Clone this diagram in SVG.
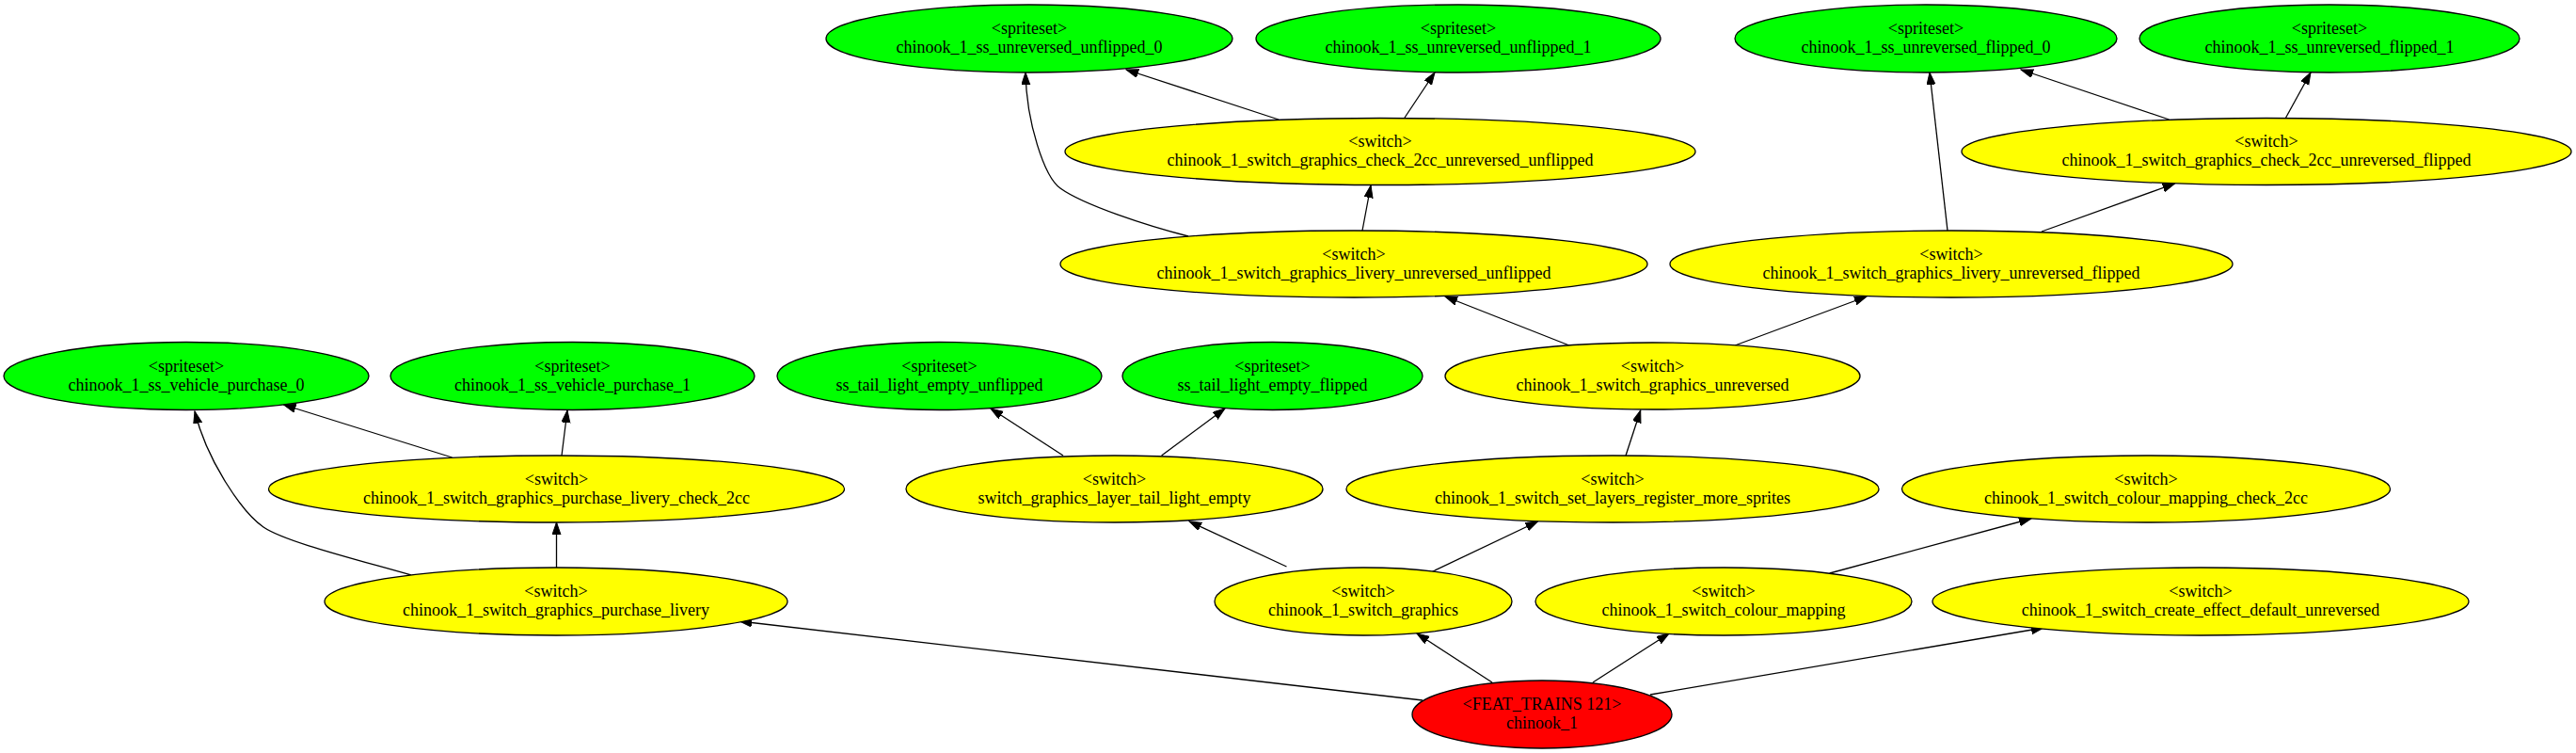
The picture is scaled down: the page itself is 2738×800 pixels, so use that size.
<svg xmlns="http://www.w3.org/2000/svg" width="2738" height="800" viewBox="0 0 2738 800">
<defs>
<style>
.n ellipse{stroke:#000;stroke-width:1.3}
.g ellipse{fill:#00ff00}
.y ellipse{fill:#ffff00}
.r ellipse{fill:#ff0000}
text{font-family:"Liberation Serif","Times New Roman",serif;font-size:18px;text-anchor:middle;fill:#000}
#edges path{fill:none;stroke:#000;stroke-width:1.3;marker-end:url(#arr)}
</style>
<marker id="arr" markerUnits="userSpaceOnUse" markerWidth="14" markerHeight="10" refX="13" refY="4.5" orient="auto" viewBox="0 0 14 10">
<path d="M0,0 L13,4.5 L0,9 z" fill="#000" stroke="#000" stroke-width="1"/>
</marker>
</defs>
<rect width="2738" height="800" fill="#fff"/>
<g id="edges">
<path d="M1512,744 L786,660"/>
<path d="M1586,725 L1506,673"/>
<path d="M1693,725 L1774,673"/>
<path d="M1754,738 L2172,667"/>
<path d="M437,611 C370,592 302,575 280,560 C258,545 220,490 207,437"/>
<path d="M591.5,603 L591.5,555"/>
<path d="M480.5,486 L301.5,430"/>
<path d="M597,484 L603,436"/>
<path d="M1367.5,602 L1264,554"/>
<path d="M1521,608 L1634.5,554"/>
<path d="M1130,484 L1053,434"/>
<path d="M1234.6,484 L1302,434"/>
<path d="M1728,484 L1743.7,436"/>
<path d="M1944.7,609 L2159,551"/>
<path d="M1668,367 L1536,315"/>
<path d="M1844,367 L1984,315"/>
<path d="M1263,251 C1220,240 1152,218 1127,200 C1110,188 1091,130 1090,77"/>
<path d="M1448,245 L1457,197"/>
<path d="M1359,127 L1197,74"/>
<path d="M1493,125 L1525,77"/>
<path d="M2070,245 L2051,77"/>
<path d="M2170,246 L2311.6,195"/>
<path d="M2305.5,127 L2148,74"/>
<path d="M2429.6,125 L2456,77"/>
</g>
<g id="ss_uu0" class="n g"><ellipse cx="1094" cy="41" rx="216" ry="36"/><text x="1094" y="36">&lt;spriteset&gt;</text><text x="1094" y="56">chinook_1_ss_unreversed_unflipped_0</text></g>
<g id="ss_uu1" class="n g"><ellipse cx="1550" cy="41" rx="215" ry="36"/><text x="1550" y="36">&lt;spriteset&gt;</text><text x="1550" y="56">chinook_1_ss_unreversed_unflipped_1</text></g>
<g id="ss_uf0" class="n g"><ellipse cx="2047" cy="41" rx="203" ry="36"/><text x="2047" y="36">&lt;spriteset&gt;</text><text x="2047" y="56">chinook_1_ss_unreversed_flipped_0</text></g>
<g id="ss_uf1" class="n g"><ellipse cx="2476" cy="41" rx="202" ry="36"/><text x="2476" y="36">&lt;spriteset&gt;</text><text x="2476" y="56">chinook_1_ss_unreversed_flipped_1</text></g>
<g id="chk_uu" class="n y"><ellipse cx="1467" cy="161" rx="335" ry="35.5"/><text x="1467" y="156">&lt;switch&gt;</text><text x="1467" y="176">chinook_1_switch_graphics_check_2cc_unreversed_unflipped</text></g>
<g id="chk_uf" class="n y"><ellipse cx="2409" cy="161" rx="324" ry="35.5"/><text x="2409" y="156">&lt;switch&gt;</text><text x="2409" y="176">chinook_1_switch_graphics_check_2cc_unreversed_flipped</text></g>
<g id="liv_uu" class="n y"><ellipse cx="1439" cy="280.5" rx="312" ry="35.5"/><text x="1439" y="275.5">&lt;switch&gt;</text><text x="1439" y="295.5">chinook_1_switch_graphics_livery_unreversed_unflipped</text></g>
<g id="liv_uf" class="n y"><ellipse cx="2074" cy="280.5" rx="299" ry="35.5"/><text x="2074" y="275.5">&lt;switch&gt;</text><text x="2074" y="295.5">chinook_1_switch_graphics_livery_unreversed_flipped</text></g>
<g id="vp0" class="n g"><ellipse cx="198" cy="399.5" rx="194" ry="36"/><text x="198" y="394.5">&lt;spriteset&gt;</text><text x="198" y="414.5">chinook_1_ss_vehicle_purchase_0</text></g>
<g id="vp1" class="n g"><ellipse cx="608.5" cy="399.5" rx="193.5" ry="36"/><text x="608.5" y="394.5">&lt;spriteset&gt;</text><text x="608.5" y="414.5">chinook_1_ss_vehicle_purchase_1</text></g>
<g id="tl_u" class="n g"><ellipse cx="998.5" cy="399.5" rx="172.5" ry="36"/><text x="998.5" y="394.5">&lt;spriteset&gt;</text><text x="998.5" y="414.5">ss_tail_light_empty_unflipped</text></g>
<g id="tl_f" class="n g"><ellipse cx="1352.5" cy="399.5" rx="159.5" ry="36"/><text x="1352.5" y="394.5">&lt;spriteset&gt;</text><text x="1352.5" y="414.5">ss_tail_light_empty_flipped</text></g>
<g id="gfx_unrev" class="n y"><ellipse cx="1756.5" cy="399.5" rx="220.5" ry="35.5"/><text x="1756.5" y="394.5">&lt;switch&gt;</text><text x="1756.5" y="414.5">chinook_1_switch_graphics_unreversed</text></g>
<g id="pl_chk" class="n y"><ellipse cx="591.5" cy="519.5" rx="306" ry="35.5"/><text x="591.5" y="514.5">&lt;switch&gt;</text><text x="591.5" y="534.5">chinook_1_switch_graphics_purchase_livery_check_2cc</text></g>
<g id="tle" class="n y"><ellipse cx="1184.5" cy="519.5" rx="221.5" ry="35.5"/><text x="1184.5" y="514.5">&lt;switch&gt;</text><text x="1184.5" y="534.5">switch_graphics_layer_tail_light_empty</text></g>
<g id="setl" class="n y"><ellipse cx="1714" cy="519.5" rx="283" ry="35.5"/><text x="1714" y="514.5">&lt;switch&gt;</text><text x="1714" y="534.5">chinook_1_switch_set_layers_register_more_sprites</text></g>
<g id="cm_chk" class="n y"><ellipse cx="2281" cy="519.5" rx="259.5" ry="35.5"/><text x="2281" y="514.5">&lt;switch&gt;</text><text x="2281" y="534.5">chinook_1_switch_colour_mapping_check_2cc</text></g>
<g id="pl" class="n y"><ellipse cx="591" cy="639" rx="246" ry="36"/><text x="591" y="634">&lt;switch&gt;</text><text x="591" y="654">chinook_1_switch_graphics_purchase_livery</text></g>
<g id="gfx" class="n y"><ellipse cx="1449" cy="639" rx="158" ry="36"/><text x="1449" y="634">&lt;switch&gt;</text><text x="1449" y="654">chinook_1_switch_graphics</text></g>
<g id="cm" class="n y"><ellipse cx="1832" cy="639" rx="200" ry="36"/><text x="1832" y="634">&lt;switch&gt;</text><text x="1832" y="654">chinook_1_switch_colour_mapping</text></g>
<g id="ce" class="n y"><ellipse cx="2339" cy="639" rx="285" ry="36"/><text x="2339" y="634">&lt;switch&gt;</text><text x="2339" y="654">chinook_1_switch_create_effect_default_unreversed</text></g>
<g id="feat" class="n r"><ellipse cx="1639" cy="759" rx="138" ry="36"/><text x="1639" y="754">&lt;FEAT_TRAINS 121&gt;</text><text x="1639" y="774">chinook_1</text></g>
</svg>
